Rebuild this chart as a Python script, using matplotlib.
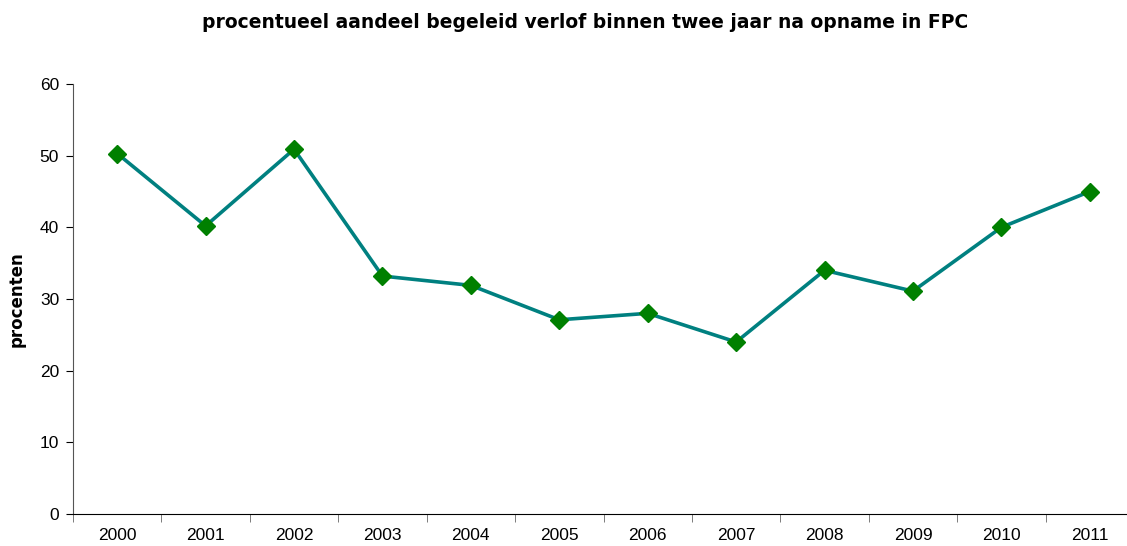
import numpy as np
import matplotlib
matplotlib.use("Agg")
import matplotlib.pyplot as plt
from matplotlib.ticker import FixedLocator

years = ["2000", "2001", "2002", "2003", "2004", "2005",
         "2006", "2007", "2008", "2009", "2010", "2011"]
values = [50.3, 40.2, 50.9, 33.2, 31.9, 27.1, 28.0, 24.0, 34.0, 31.1, 40.0, 45.0]

W, H = 1127, 546
fig = plt.figure(figsize=(W / 100, H / 100), dpi=100)
ax = fig.add_axes([73 / W, 1 - 514 / H, 1061 / W, 430 / H])

x = np.arange(len(years))
ax.plot(x, values, color="#008080", linewidth=2.6, zorder=2)
ax.plot(x, values, linestyle="none", marker="D", markersize=9.5,
        markerfacecolor="#008000", markeredgecolor="#008000", zorder=3)

ax.set_xlim(-0.5, len(years) - 0.5)
ax.set_ylim(0, 60)
ax.set_yticks(range(0, 61, 10))
ax.set_xticks(x)
ax.set_xticklabels(years)
ax.xaxis.set_minor_locator(FixedLocator(np.arange(-0.5, len(years), 1.0)))
ax.tick_params(axis="x", which="major", length=0, pad=10, labelsize=12.5)
ax.tick_params(axis="x", which="minor", length=6, direction="out", color="#666666")
ax.tick_params(axis="y", length=5, direction="out", pad=5, labelsize=12.5)
for lab in ax.get_xticklabels() + ax.get_yticklabels():
    lab.set_family("Liberation Sans")

for s in ["top", "right"]:
    ax.spines[s].set_visible(False)
ax.spines["left"].set_color("#555555")
ax.spines["bottom"].set_color("black")

ax.set_ylabel("procenten", fontsize=12, fontweight="bold", labelpad=10)
fig.text(585 / W, 1 - 22 / H, "procentueel aandeel begeleid verlof binnen twee jaar na opname in FPC",
         ha="center", va="center", fontsize=13.5, fontweight="bold")

fig.savefig("out.png", dpi=100)
